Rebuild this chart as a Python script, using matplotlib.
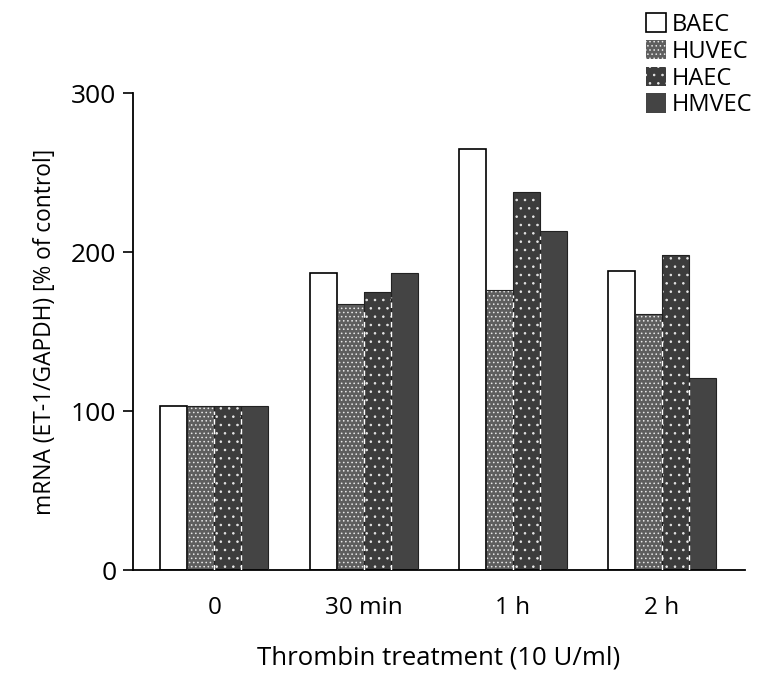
import numpy as np
import matplotlib
matplotlib.use("Agg")
import matplotlib.pyplot as plt
from matplotlib.patches import Patch

# ---- data ----
categories = ["0", "30 min", "1 h", "2 h"]
series_names = ["BAEC", "HUVEC", "HAEC", "HMVEC"]
baec = [103, 187, 265, 188]
huvec = [103, 167, 176, 161]
haec = [103, 175, 238, 198]
hmvec = [103, 187, 213, 121]
y_ticks = [0, 100, 200, 300]

# ---- style ----
plt.rcParams['font.family'] = ['Open Sans', 'DejaVu Sans']
plt.rcParams['hatch.linewidth'] = 0.6

fig = plt.figure(figsize=(7.62, 6.79), dpi=100)
ax = fig.add_axes([0.1745, 0.1605, 0.8035, 0.7025])

x = np.arange(len(categories))
w = 0.181
series = [baec, huvec, haec, hmvec]
faces = ["white", "#5e5e5e", "#3c3c3c", "#444444"]
hatches = [None, "....", "..", None]

for i, (vals, fc, h) in enumerate(zip(series, faces, hatches)):
    pos = x + (i - 1.5) * w
    if i == 0:
        ax.bar(pos, vals, width=w, facecolor=fc, edgecolor="black", linewidth=1.2, zorder=2)
    else:
        ax.bar(pos, vals, width=w, facecolor=fc, edgecolor="#e8e8e8" if h else fc,
               hatch=h, linewidth=0, zorder=2)
        ax.bar(pos, vals, width=w, facecolor="none", edgecolor="#222222", linewidth=0.8, zorder=3)
        if i >= 2:
            ax.vlines(pos - w / 2, 0, np.minimum(vals, series[i - 1]) - 3, colors="white",
                      linestyles=(0, (4, 3)), linewidth=1.0, zorder=4)

ax.set_xlim(-0.545, 3.558)
ax.set_ylim(0, 300)
ax.set_yticks(y_ticks)
ax.set_yticklabels([str(t) for t in y_ticks], fontsize=19)
ax.set_xticks(x)
ax.set_xticklabels(categories, fontsize=17.5)
ax.tick_params(axis='x', length=0, pad=19)
ax.tick_params(axis='y', direction='out', length=7, width=1.2, pad=5)

for s in ["top", "right"]:
    ax.spines[s].set_visible(False)
ax.spines["left"].set_linewidth(1.3)
ax.spines["bottom"].set_linewidth(1.3)

ax.set_ylabel("mRNA (ET-1/GAPDH) [% of control]", fontsize=16.4, labelpad=10)
ax.set_xlabel("Thrombin treatment (10 U/ml)", fontsize=18.5, labelpad=18)

handles = [
    Patch(facecolor="white", edgecolor="black", linewidth=1.2, label="BAEC"),
    Patch(facecolor="#5e5e5e", edgecolor="#e8e8e8", hatch="....", linewidth=0, label="HUVEC"),
    Patch(facecolor="#3c3c3c", edgecolor="#e8e8e8", hatch="..", linewidth=0, label="HAEC"),
    Patch(facecolor="#444444", edgecolor="#444444", linewidth=0, label="HMVEC"),
]
fig.legend(handles=handles, loc="upper left", bbox_to_anchor=(0.835, 0.995),
           frameon=False, fontsize=17, handlelength=0.85, handleheight=0.9,
           handletextpad=0.25, labelspacing=0.12, borderaxespad=0)

fig.savefig("out.png", dpi=100)
